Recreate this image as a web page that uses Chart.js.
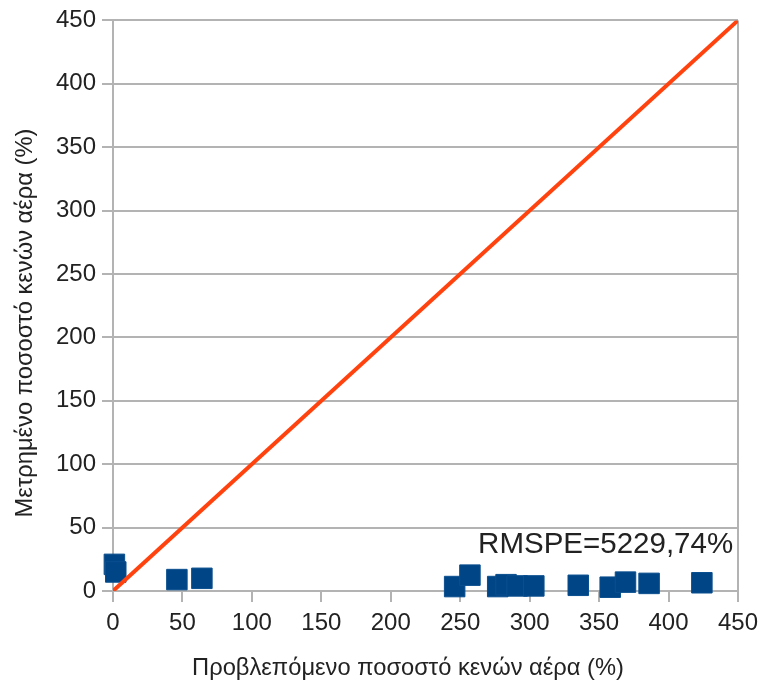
<!DOCTYPE html>
<html>
<head>
<meta charset="utf-8">
<script src="https://cdn.jsdelivr.net/npm/chart.js@4"></script>
<style>
  html, body { margin: 0; padding: 0; background: #fff; }
  #wrap { width: 765px; height: 691px; }
</style>
</head>
<body>
<div id="wrap"><canvas id="myChart"></canvas></div>
<script>
// data
const predicted = [1, 2, 46, 64, 246, 257, 277, 283, 291, 303, 335, 358, 369, 386, 424];
const measured  = [21, 15, 9, 10, 3.5, 12.5, 3.5, 5, 4, 4, 4.5, 3, 7, 6, 6.5];
const lineX = [0, 450];
const lineY = [0, 450];
const xTicks = [0, 50, 100, 150, 200, 250, 300, 350, 400, 450];
const yTicks = [0, 50, 100, 150, 200, 250, 300, 350, 400, 450];
const noteText = 'RMSPE=5229,74%';
const xTitle = 'Προβλεπόμενο ποσοστό κενών αέρα (%)';
const yTitle = 'Μετρημένο ποσοστό κενών αέρα (%)';

const gridGray = '#b3b3b3';
const textCol = '#222';
const fontFam = '"Liberation Sans", Arial, sans-serif';

// setup
const data = {
  datasets: [{
    label: 'y = x',
    data: lineX.map((v, i) => ({x: v, y: lineY[i]})),
    showLine: true,
    borderColor: '#ff420e',
    borderWidth: 4,
    pointRadius: 0,
    order: 0
  }, {
    label: 'measured',
    data: predicted.map((v, i) => ({x: v, y: measured[i]})),
    pointStyle: 'rect',
    pointRadius: 14.5,
    pointHoverRadius: 14.5,
    backgroundColor: '#004586',
    borderColor: '#0a4f8f',
    borderWidth: 1,
    clip: false,
    order: 1
  }]
};

// annotation + axis titles (titles placed by hand, they sit off-centre in the original)
const textLayer = {
  id: 'textLayer',
  afterDatasetsDraw(chart) {
    const {ctx, scales: {x, y}} = chart;
    ctx.save();
    ctx.fillStyle = textCol;
    ctx.textBaseline = 'middle';

    ctx.font = '29.5px ' + fontFam;
    ctx.textAlign = 'right';
    ctx.fillText(noteText, x.getPixelForValue(446.5), y.getPixelForValue(36));

    ctx.font = '23.7px ' + fontFam;
    ctx.textAlign = 'center';
    ctx.fillText(xTitle, 408, 668);

    ctx.translate(25, 323);
    ctx.rotate(-Math.PI / 2);
    ctx.fillText(yTitle, 0, 0);
    ctx.restore();
  }
};

// config
const config = {
  type: 'scatter',
  data: data,
  options: {
    responsive: true,
    maintainAspectRatio: false,
    animation: false,
    layout: { padding: { top: 19, right: 24, left: 0, bottom: 0 } },
    plugins: {
      legend: { display: false },
      tooltip: { enabled: false }
    },
    scales: {
      x: {
        type: 'linear',
        min: 0,
        max: 450,
        afterFit(scale) { scale.height = 100; },
        afterBuildTicks(scale) { scale.ticks = xTicks.map(v => ({value: v})); },
        grid: {
          color: ctx => ctx.index === xTicks.length - 1 ? gridGray : 'rgba(0,0,0,0)',
          tickColor: gridGray,
          tickLength: 11,
          lineWidth: 2
        },
        border: { color: gridGray, width: 2 },
        ticks: {
          color: textCol,
          padding: 7,
          maxRotation: 0,
          font: { family: fontFam, size: 24 }
        }
      },
      y: {
        type: 'linear',
        min: 0,
        max: 450,
        afterFit(scale) { scale.width = 113; },
        afterBuildTicks(scale) { scale.ticks = yTicks.map(v => ({value: v})); },
        grid: {
          color: gridGray,
          tickColor: gridGray,
          tickLength: 11,
          lineWidth: 2
        },
        border: { color: gridGray, width: 2 },
        ticks: {
          color: textCol,
          padding: 6,
          font: { family: fontFam, size: 24 }
        }
      }
    }
  },
  plugins: [textLayer]
};

// render
const myChart = new Chart(document.getElementById('myChart'), config);
</script>
</body>
</html>
